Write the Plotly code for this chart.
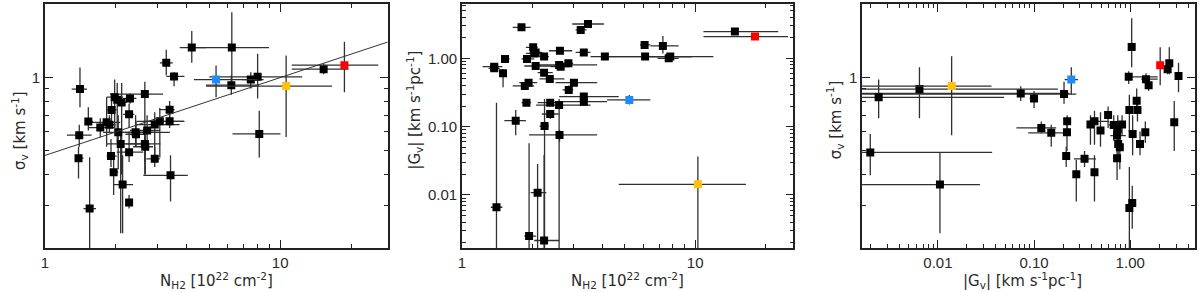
import plotly.graph_objects as go

# ---------------- Panel 1: N_H2 vs sigma_v ----------------
p1_N = [1.41, 1.53, 1.40, 1.39, 1.55, 1.72, 1.83, 1.88, 1.98, 2.03, 2.12, 2.30, 1.92, 2.28, 2.05,
        2.10, 1.91, 1.96, 2.14, 2.28, 2.28, 2.43, 2.44, 2.66, 2.67, 2.66, 2.72, 2.93, 2.93, 3.08,
        3.39, 3.39, 3.42, 3.28, 3.54, 4.21, 6.23, 6.20, 7.50, 8.02, 8.15, 15.3]
p1_sig = [0.896, 0.66, 0.58, 0.467, 0.29, 0.623, 0.655, 0.64, 0.83, 0.81, 0.79, 0.82, 0.736, 0.706, 0.596,
          0.534, 0.476, 0.409, 0.364, 0.307, 0.494, 0.596, 0.585, 0.855, 0.52, 0.534, 0.606, 0.641, 0.464, 0.661,
          0.661, 0.738, 0.397, 1.148, 1.01, 1.326, 1.326, 0.93, 0.98, 1.006, 0.587, 1.081]
p1_N_err = [(1.30, 1.51), (1.48, 1.60), (1.24, 1.58), (1.35, 1.46), (1.46, 1.65), (1.53, 1.99), (1.58, 2.09),
            (1.77, 2.0), (1.83, 2.15), (1.95, 2.12), (2.02, 2.23), (2.15, 2.45), (1.83, 2.02), (2.15, 2.40),
            (1.77, 2.88), (1.83, 2.70), (1.83, 2.02), (1.89, 2.05), (1.95, 2.37), (2.20, 2.37), (2.02, 2.62),
            (2.0, 3.4), (2.2, 2.7), (1.89, 3.18), (2.37, 2.88), (2.2, 3.1), (2.30, 3.08), (2.45, 3.74),
            (2.7, 3.08), (2.62, 3.92), (2.45, 3.9), (3.08, 3.56), (2.62, 4.05), (3.08, 3.5), (3.28, 3.92),
            (3.74, 4.84), (4.25, 8.96), (4.84, 8.13), (6.9, 8.5), (5.0, 12.4), (6.27, 10.03), (11.2, 19.5)]
p1_sig_err = [(0.754, 1.098), (0.606, 0.754), (0.52, 0.64), (0.385, 0.52), (0.1, 0.471), (0.57, 0.68),
              (0.52, 0.83), (0.59, 0.70), (0.62, 0.98), (0.55, 0.95), (0.40, 0.95), (0.78, 0.86), (0.62, 0.82),
              (0.62, 0.78), (0.42, 0.70), (0.23, 0.60), (0.43, 0.56), (0.33, 0.49), (0.23, 0.48), (0.29, 0.33),
              (0.45, 0.60), (0.52, 0.70), (0.52, 0.66), (0.40, 0.96), (0.40, 0.60), (0.45, 0.62), (0.53, 0.70),
              (0.45, 0.72), (0.43, 0.52), (0.47, 0.75), (0.62, 0.72), (0.68, 0.80), (0.31, 0.48), (1.02, 1.30),
              (0.92, 1.05), (1.15, 1.55), (0.92, 1.85), (0.85, 1.02), (0.90, 1.05), (0.82, 1.25), (0.47, 0.73),
              (1.03, 1.14)]
# highlighted sources: blue, yellow, red
p1_hl_N = [5.34, 10.6, 18.75]
p1_hl_sig = [0.98, 0.922, 1.123]
p1_hl_N_err = [(4.3, 8.0), (4.84, 16.6), (11.2, 26.1)]
p1_hl_sig_err = [(0.83, 1.12), (0.57, 1.23), (0.87, 1.40)]
# power-law fit sigma = a * N^b
fit_a = 0.479
fit_b = 0.319

# ---------------- Panel 2: N_H2 vs |G_v| ----------------
p2_N = [1.80, 3.23, 3.47, 14.8, 6.07, 7.27, 6.10, 7.82, 7.70, 4.10, 3.33, 2.63, 2.02, 2.04, 2.07, 2.25,
        1.90, 1.53, 1.375, 1.375, 1.50, 2.07, 2.61, 2.65, 2.86, 2.25, 2.38, 1.93, 1.86, 3.02, 2.87, 3.33,
        3.33, 1.89, 2.39, 2.61, 2.39, 1.70, 2.26, 2.62, 1.406, 2.11, 1.94, 2.25]
p2_G = [2.84, 2.60, 3.18, 2.46, 1.57, 1.52, 1.06, 1.06, 1.00, 1.06, 1.22, 1.29, 1.45, 1.18, 1.22, 1.06,
        0.978, 0.98, 0.755, 0.714, 0.603, 0.772, 0.80, 0.755, 0.845, 0.617, 0.499, 0.44, 0.394, 0.44, 0.344,
        0.275, 0.232, 0.224, 0.224, 0.207, 0.153, 0.122, 0.102, 0.0755, 0.0066, 0.0108, 0.0025, 0.00215]
p2_N_err = [(1.65, 1.97), (3.07, 3.42), (2.97, 4.06), (10.85, 22.7), (5.8, 6.42), (6.42, 8.49), (4.19, 11.97),
            (6.4, 9.68), (6.9, 8.5), (3.56, 9.68), (3.07, 3.56), (2.36, 2.97), (1.88, 2.11), (1.88, 2.25),
            (1.95, 2.2), (2.11, 2.36), (1.8, 2.04), (1.47, 1.6), (1.225, 1.49), (1.3, 1.45), (1.45, 1.55),
            (1.85, 2.52), (2.0, 3.8), (2.4, 2.9), (2.6, 3.0), (2.11, 2.45), (2.15, 2.75), (1.76, 2.1),
            (1.65, 2.04), (2.52, 3.8), (2.7, 3.0), (2.61, 4.7), (2.5, 4.19), (1.8, 1.98), (2.11, 2.6),
            (2.08, 3.56), (2.2, 2.6), (1.52, 1.88), (2.15, 2.36), (1.94, 3.8), (1.33, 1.49), (1.97, 2.3),
            (1.85, 2.08), (2.04, 2.61)]
p2_G_err = [(2.7, 3.0), (2.5, 2.7), (3.0, 3.35), (2.35, 2.6), (1.5, 1.65), (1.18, 2.12), (1.0, 1.12),
            (1.0, 1.12), (0.95, 1.1), (1.0, 1.12), (1.15, 1.3), (1.2, 1.38), (1.35, 1.55), (1.1, 1.28),
            (1.12, 1.3), (1.0, 1.12), (0.93, 1.03), (0.92, 1.04), (0.71, 0.8), (0.66, 0.77), (0.376, 0.7),
            (0.72, 0.83), (0.75, 0.86), (0.71, 0.8), (0.8, 0.9), (0.55, 0.7), (0.47, 0.53), (0.41, 0.47),
            (0.37, 0.42), (0.41, 0.47), (0.3, 0.4), (0.25, 0.3), (0.21, 0.254), (0.2, 0.25), (0.2, 0.25),
            (1e-5, 0.254), (0.13, 0.175), (0.075, 0.175), (1e-5, 0.254), (0.06, 0.09), (1e-5, 0.224),
            (1e-5, 0.0284), (1e-5, 0.057), (1e-5, 0.0385)]
p2_hl_N = [5.22, 10.27, 18.05]
p2_hl_G = [0.246, 0.0143, 2.08]
p2_hl_N_err = [(4.19, 6.42), (4.7, 16.5), (10.85, 25.0)]
p2_hl_G_err = [(0.21, 0.29), (1e-5, 0.0364), (2.0, 2.16)]

# ---------------- Panel 3: |G_v| vs sigma_v ----------------
p3_G = [0.00242, 0.00643, 0.00198, 0.0105, 0.0727, 0.100, 0.205, 0.119, 0.151, 0.221, 0.220, 0.216, 0.275,
        0.335, 0.425, 0.386, 0.425, 0.491, 0.589, 0.674, 0.742, 0.730, 0.750, 0.780, 0.730, 0.823, 0.980,
        1.05, 0.965, 0.980, 1.06, 1.036, 1.168, 1.19, 1.265, 1.46, 1.555, 1.436, 2.45, 2.55, 3.18, 2.87]
p3_sig = [0.829, 0.896, 0.493, 0.364, 0.860, 0.820, 0.855, 0.621, 0.593, 0.661, 0.596, 0.477, 0.401, 0.464,
          0.409, 0.641, 0.661, 0.606, 0.702, 0.639, 0.615, 0.578, 0.534, 0.518, 0.467, 0.641, 0.292, 0.306,
          1.006, 0.736, 0.587, 1.334, 0.803, 0.736, 0.534, 0.984, 0.930, 0.596, 1.081, 1.144, 1.013, 0.655]
p3_G_err = [(1e-5, 0.0487), (1e-5, 0.177), (1e-5, 0.0367), (1e-5, 0.0274), (1e-5, 0.234), (0.09, 0.11),
            (1e-5, 0.275), (0.0656, 0.170), (0.087, 0.2), (0.21, 0.235), (0.205, 0.235), (0.2, 0.232),
            (0.26, 0.29), (0.26, 0.44), (0.4, 0.45), (0.36, 0.41), (0.37, 0.6), (0.47, 0.51), (0.56, 0.62),
            (0.6, 0.85), (0.7, 0.78), (0.62, 0.9), (0.7, 0.8), (0.72, 0.84), (0.69, 0.77), (0.72, 0.9),
            (0.95, 1.01), (1.0, 1.1), (0.965, 1.93), (0.95, 1.01), (1.02, 1.1), (0.95, 1.12), (1.12, 1.22),
            (1.14, 1.24), (1.2, 1.33), (1.3, 1.93), (1.5, 1.62), (1.38, 1.5), (2.35, 2.55), (2.45, 2.65),
            (3.0, 3.35), (2.75, 3.0)]
p3_sig_err = [(0.68, 0.98), (0.68, 1.1), (0.397, 0.587), (0.2296, 0.494), (0.8, 0.92), (0.75, 0.88),
              (0.78, 0.96), (0.59, 0.66), (0.52, 0.64), (0.59, 0.7), (0.5, 0.66), (0.43, 0.52), (0.31, 0.46),
              (0.43, 0.5), (0.31, 0.48), (0.53, 0.7), (0.53, 0.73), (0.52, 0.72), (0.62, 0.76), (0.55, 0.7),
              (0.52, 0.7), (0.52, 0.64), (0.48, 0.58), (0.42, 0.56), (0.38, 0.52), (0.58, 0.7), (0.15, 0.43),
              (0.24, 0.36), (0.94, 1.06), (0.6, 0.85), (0.48, 0.7), (1.1, 1.75), (0.72, 0.9), (0.66, 0.82),
              (0.48, 0.6), (0.93, 1.04), (0.88, 1.0), (0.54, 0.66), (1.03, 1.13), (1.03, 1.33), (0.87, 1.15),
              (0.5, 0.8)]
p3_hl_G = [0.244, 0.0139, 2.05]
p3_hl_sig = [0.98, 0.922, 1.123]
p3_hl_G_err = [(0.208, 0.286), (1e-5, 0.0361), (2.0, 2.1)]
p3_hl_sig_err = [(0.85, 1.10), (0.58, 1.22), (0.93, 1.33)]

hl_colors = ["#1E8CFF", "#FFC20E", "#FF0000"]

# ---------------- styling ----------------
W, H = 1200, 292
FONT = "Liberation Sans, Arial, sans-serif"
TFONT = "DejaVu Sans, sans-serif"
TXT = "#2a2a2a"
LINE = "#222222"
ERR = "#303030"

fig = go.Figure()


def add_points(xs, ys, xerr, yerr, xa, ya, color):
    ex_p = [hi - v for v, (lo, hi) in zip(xs, xerr)]
    ex_m = [v - lo for v, (lo, hi) in zip(xs, xerr)]
    ey_p = [hi - v for v, (lo, hi) in zip(ys, yerr)]
    ey_m = [v - lo for v, (lo, hi) in zip(ys, yerr)]
    fig.add_trace(go.Scatter(
        x=xs, y=ys, mode="markers", xaxis=xa, yaxis=ya, showlegend=False, hoverinfo="skip",
        marker=dict(symbol="square", size=8, color=color, line=dict(width=0)),
        error_x=dict(type="data", symmetric=False, array=ex_p, arrayminus=ex_m,
                     color=ERR, thickness=1.3, width=0),
        error_y=dict(type="data", symmetric=False, array=ey_p, arrayminus=ey_m,
                     color=ERR, thickness=1.3, width=0),
    ))


# Panel 1
add_points(p1_N, p1_sig, p1_N_err, p1_sig_err, "x", "y", "black")
for i, c in enumerate(hl_colors):
    add_points([p1_hl_N[i]], [p1_hl_sig[i]], [p1_hl_N_err[i]], [p1_hl_sig_err[i]], "x", "y", c)
x1_range = (0.0, 1.457)
fit_x = [10 ** x1_range[0], 10 ** x1_range[1]]
fig.add_trace(go.Scatter(x=fit_x, y=[fit_a * v ** fit_b for v in fit_x], mode="lines",
                         xaxis="x", yaxis="y", showlegend=False, hoverinfo="skip",
                         line=dict(color="#333333", width=1)))

# Panel 2
add_points(p2_N, p2_G, p2_N_err, p2_G_err, "x2", "y2", "black")
for i, c in enumerate(hl_colors):
    add_points([p2_hl_N[i]], [p2_hl_G[i]], [p2_hl_N_err[i]], [p2_hl_G_err[i]], "x2", "y2", c)

# Panel 3
add_points(p3_G, p3_sig, p3_G_err, p3_sig_err, "x3", "y3", "black")
for i, c in enumerate(hl_colors):
    add_points([p3_hl_G[i]], [p3_hl_sig[i]], [p3_hl_G_err[i]], [p3_hl_sig_err[i]], "x3", "y3", c)


def minor_vals(lo_dec, hi_dec):
    out = []
    for d in range(lo_dec, hi_dec + 1):
        for m in range(2, 10):
            out.append(m * 10 ** d)
    return out


def axis(dom, rng, tickvals, ticktext, minor, anchor):
    return dict(
        type="log", domain=dom, range=list(rng), anchor=anchor,
        showline=True, linecolor=LINE, linewidth=1.5, mirror="allticks",
        ticks="inside", ticklen=8, tickwidth=1, tickcolor=LINE,
        tickvals=tickvals, ticktext=ticktext,
        minor=dict(ticks="inside", ticklen=4, tickwidth=1, tickcolor=LINE, tickvals=minor, showgrid=False),
        showgrid=False, zeroline=False,
        tickfont=dict(family=FONT, size=15, color=TXT),
    )


ydom = [44 / H, 288 / H]
sig_rng = (-0.699, 0.301)
fig.update_layout(
    width=W, height=H, margin=dict(l=0, r=0, t=0, b=0),
    paper_bgcolor="white", plot_bgcolor="white", hovermode=False,
    xaxis=axis([41 / W, 385 / W], x1_range, [1, 10], ["1", "10"], minor_vals(0, 1), "y"),
    yaxis=axis(ydom, sig_rng, [1], ["1"], minor_vals(-1, 0), "x"),
    xaxis2=axis([459.5 / W, 792 / W], (0.0, 1.421), [1, 10], ["1", "10"], minor_vals(0, 1), "y2"),
    yaxis2=axis(ydom, (-2.777, 0.795), [0.01, 0.1, 1], ["0.01", "0.10", "1.00"], minor_vals(-3, 0), "x2"),
    xaxis3=axis([861 / W, 1195 / W], (-2.788, 0.674), [0.01, 0.1, 1], ["0.01", "0.10", "1.00"],
                minor_vals(-3, 0), "y3"),
    yaxis3=axis(ydom, sig_rng, [1], ["1"], minor_vals(-1, 0), "x3"),
)

xt = "N<sub>H2</sub> [10<sup>22</sup> cm<sup>-2</sup>]"
gt = "|G<sub>v</sub>| [km s<sup>-1</sup>pc<sup>-1</sup>]"
st = "σ<sub>v</sub> [km s<sup>-1</sup>]"
ann = [
    (213, 280, xt, 0), (626, 280, xt, 0), (1022, 280, gt, 0),
    (15, 130, st, -90), (412, 110, gt, -90), (833, 120, st, -90),
]
for x, y, t, ang in ann:
    fig.add_annotation(x=x / W, y=1 - y / H, xref="paper", yref="paper", text=t, showarrow=False,
                       textangle=ang, xanchor="center", yanchor="middle",
                       font=dict(family=TFONT, size=15, color=TXT))

fig.write_html("out.html", config={"displayModeBar": False},
               post_script="document.body.style.margin='0';document.body.style.overflow='hidden';")
